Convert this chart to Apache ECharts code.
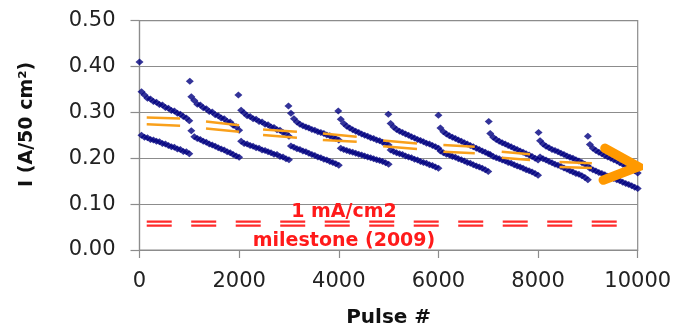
<!DOCTYPE html>
<html><head><meta charset="utf-8">
<script src="https://cdn.jsdelivr.net/npm/echarts@6/dist/echarts.min.js"></script>
<style>html,body{margin:0;padding:0;background:#fff}#c{width:681px;height:331px}</style>
</head><body><div id="c"></div>
<script>
// ---- data ----
const xTicks = [0, 2000, 4000, 6000, 8000, 10000];
const yTicks = [0, 0.1, 0.2, 0.3, 0.4, 0.5];
const cycleStart = [0, 1000, 2000, 3000, 4000, 5000, 6000, 7000, 8000, 9000];
const pulseOffsets = [40,100,160,220,280,340,400,460,520,580,640,700,760,820,880,940,1000];
const spikePulse = [0, 1010, 1985, 2990, 3990, 4995, 6000, 7010, 8010, 9000];
const spikeValue = [0.410, 0.368, 0.338, 0.314, 0.303, 0.296, 0.294, 0.280, 0.256, 0.248];
const upperChains = [
  [0.345,0.338,0.331,0.329,0.324,0.322,0.317,0.316,0.311,0.309,0.304,0.303,0.298,0.296,0.291,0.288,0.282],
  [0.334,0.326,0.318,0.316,0.310,0.308,0.302,0.301,0.295,0.293,0.288,0.286,0.280,0.279,0.272,0.269,0.261],
  [0.305,0.299,0.293,0.291,0.286,0.285,0.280,0.279,0.274,0.273,0.268,0.267,0.262,0.261,0.256,0.254,0.248],
  [0.298,0.286,0.279,0.274,0.271,0.268,0.266,0.263,0.261,0.258,0.256,0.254,0.251,0.249,0.246,0.243,0.240],
  [0.285,0.276,0.270,0.266,0.262,0.259,0.256,0.253,0.250,0.248,0.245,0.243,0.240,0.238,0.235,0.232,0.229],
  [0.276,0.268,0.263,0.259,0.256,0.253,0.250,0.247,0.244,0.241,0.239,0.236,0.233,0.231,0.228,0.225,0.222],
  [0.266,0.258,0.253,0.249,0.246,0.243,0.240,0.237,0.234,0.231,0.228,0.225,0.222,0.219,0.216,0.213,0.210],
  [0.254,0.246,0.241,0.237,0.234,0.231,0.228,0.225,0.222,0.219,0.216,0.213,0.210,0.207,0.204,0.200,0.196],
  [0.238,0.231,0.226,0.223,0.219,0.217,0.214,0.211,0.208,0.205,0.202,0.200,0.197,0.194,0.191,0.187,0.183],
  [0.230,0.222,0.217,0.213,0.210,0.206,0.203,0.200,0.197,0.194,0.190,0.187,0.184,0.181,0.177,0.173,0.168]
];
const lowerChains = [
  [0.250,0.246,0.245,0.241,0.240,0.237,0.236,0.232,0.231,0.228,0.225,0.224,0.220,0.219,0.215,0.214,0.210],
  [0.260,0.247,0.243,0.241,0.237,0.235,0.231,0.229,0.226,0.223,0.220,0.218,0.214,0.212,0.208,0.205,0.202],
  [0.237,0.232,0.231,0.228,0.226,0.223,0.222,0.218,0.217,0.214,0.212,0.209,0.208,0.204,0.203,0.199,0.197],
  [0.227,0.224,0.221,0.219,0.216,0.214,0.211,0.208,0.206,0.203,0.201,0.198,0.196,0.193,0.191,0.188,0.185],
  [0.222,0.219,0.217,0.215,0.213,0.211,0.209,0.207,0.205,0.203,0.201,0.199,0.197,0.195,0.193,0.190,0.187],
  [0.218,0.215,0.212,0.210,0.208,0.205,0.203,0.201,0.198,0.196,0.193,0.191,0.189,0.186,0.184,0.181,0.178],
  [0.216,0.212,0.209,0.207,0.204,0.202,0.199,0.197,0.194,0.191,0.189,0.186,0.183,0.181,0.178,0.175,0.171],
  [0.208,0.204,0.201,0.199,0.196,0.194,0.191,0.189,0.186,0.183,0.181,0.178,0.175,0.173,0.170,0.167,0.163],
  [0.203,0.199,0.196,0.193,0.190,0.187,0.185,0.182,0.179,0.176,0.173,0.170,0.167,0.165,0.162,0.158,0.153],
  [0.178,0.175,0.172,0.169,0.167,0.164,0.161,0.159,0.156,0.153,0.151,0.148,0.145,0.143,0.140,0.137,0.134]
];
const trendStart = [145, 1335, 2480, 3680, 4890, 6100, 7270, 8430];
const trendEnd   = [815, 2000, 3160, 4360, 5570, 6730, 7840, 9080];
const trendUpperFrom = [0.289, 0.280, 0.263, 0.254, 0.239, 0.229, 0.214, 0.192];
const trendUpperTo   = [0.287, 0.272, 0.258, 0.247, 0.232, 0.225, 0.209, 0.189];
const trendLowerFrom = [0.274, 0.265, 0.251, 0.240, 0.226, 0.214, 0.201, 0.181];
const trendLowerTo   = [0.271, 0.258, 0.245, 0.236, 0.220, 0.211, 0.196, 0.179];
const milestoneValues = [0.062, 0.053];
const milestoneRange = [145, 9611];
const arrowPulse = [9344, 10010, 9310];
const arrowValue = [0.2216, 0.1815, 0.1525];
const noteLines = ['1 mA/cm2', 'milestone (2009)'];
const notePulse = 4105;
const noteTopValue = 0.1149;

// ---- build ----
const pts = [];
for (let c = 0; c < cycleStart.length; c++) {
  pts.push([spikePulse[c], spikeValue[c]]);
  upperChains[c].forEach((v, i) => pts.push([cycleStart[c] + pulseOffsets[i], v]));
  lowerChains[c].forEach((v, i) => pts.push([cycleStart[c] + pulseOffsets[i], v]));
}
const series = [];
milestoneValues.forEach(v => series.push({
  type: 'line', data: [[milestoneRange[0], v], [milestoneRange[1], v]], symbol: 'none', z: 2,
  lineStyle: { color: '#ff2a2a', width: 2.2, type: [25, 19.5] }, silent: true
}));
series.push({
  type: 'scatter', data: pts, symbol: 'diamond', symbolSize: [8, 7], z: 3,
  itemStyle: { color: '#000080' }, silent: true
});
for (let k = 0; k < trendStart.length; k++) {
  series.push({ type: 'line', symbol: 'none', z: 4, silent: true,
    data: [[trendStart[k], trendUpperFrom[k]], [trendEnd[k], trendUpperTo[k]]],
    lineStyle: { color: '#f9a01b', width: 2.5 } });
  series.push({ type: 'line', symbol: 'none', z: 4, silent: true,
    data: [[trendStart[k], trendLowerFrom[k]], [trendEnd[k], trendLowerTo[k]]],
    lineStyle: { color: '#f9a01b', width: 2.5 } });
}
series.push({ type: 'line', symbol: 'none', z: 5, silent: true, clip: false,
  data: arrowPulse.map((x, i) => [x, arrowValue[i]]),
  lineStyle: { color: '#ff9900', width: 9.5, cap: 'round', join: 'miter' } });

const chart = echarts.init(document.getElementById('c'));
chart.setOption({
  animation: false,
  backgroundColor: '#fff',
  grid: { left: 139.5, right: 43.3, top: 20.7, bottom: 81, containLabel: false, outerBoundsMode: 'none',
    show: true, borderColor: '#8c8c8c', borderWidth: 1.2, backgroundColor: 'transparent' },
  xAxis: {
    type: 'value', min: xTicks[0], max: xTicks[xTicks.length - 1], interval: xTicks[1] - xTicks[0],
    name: 'Pulse #', nameLocation: 'middle', nameGap: 58,
    nameTextStyle: { fontFamily: 'DejaVu Sans', fontWeight: 'bold', fontSize: 20, color: '#111' },
    axisLine: { show: true, lineStyle: { color: '#8c8c8c', width: 1.2 } },
    axisTick: { show: true, length: 8, inside: false, lineStyle: { color: '#8c8c8c', width: 1.2 } },
    axisLabel: { fontFamily: 'DejaVu Sans', fontSize: 21, color: '#222', margin: 21,
      formatter: v => String(v) },
    splitLine: { show: false }
  },
  yAxis: {
    type: 'value', min: yTicks[0], max: yTicks[yTicks.length - 1], interval: yTicks[1] - yTicks[0],
    name: 'I (A/50 cm²)', nameLocation: 'middle', nameGap: 103, nameRotate: 90,
    nameTextStyle: { fontFamily: 'DejaVu Sans', fontWeight: 'bold', fontSize: 19, color: '#111',
      padding: [0, 0, 0, 22] },
    axisLine: { show: true, lineStyle: { color: '#8c8c8c', width: 1.2 } },
    axisTick: { show: true, length: 9, inside: false, lineStyle: { color: '#8c8c8c', width: 1.2 } },
    axisLabel: { fontFamily: 'DejaVu Sans', fontSize: 21, color: '#222', margin: 24,
      formatter: v => v.toFixed(2) },
    splitLine: { show: true, lineStyle: { color: '#8c8c8c', width: 1.2 } }
  },
  series: series
});
// red two-line annotation anchored through the axes' own scales
const anchor = chart.convertToPixel({ gridIndex: 0 }, [notePulse, noteTopValue]);
chart.setOption({ graphic: [{
  type: 'text', x: anchor[0], y: anchor[1], z: 100, silent: true,
  style: { text: noteLines.join('\n'), fill: '#ff1a1a', fontFamily: 'DejaVu Sans',
    fontWeight: 'bold', fontSize: 19, lineHeight: 29.5, align: 'center', verticalAlign: 'top' }
}] });
</script></body></html>
